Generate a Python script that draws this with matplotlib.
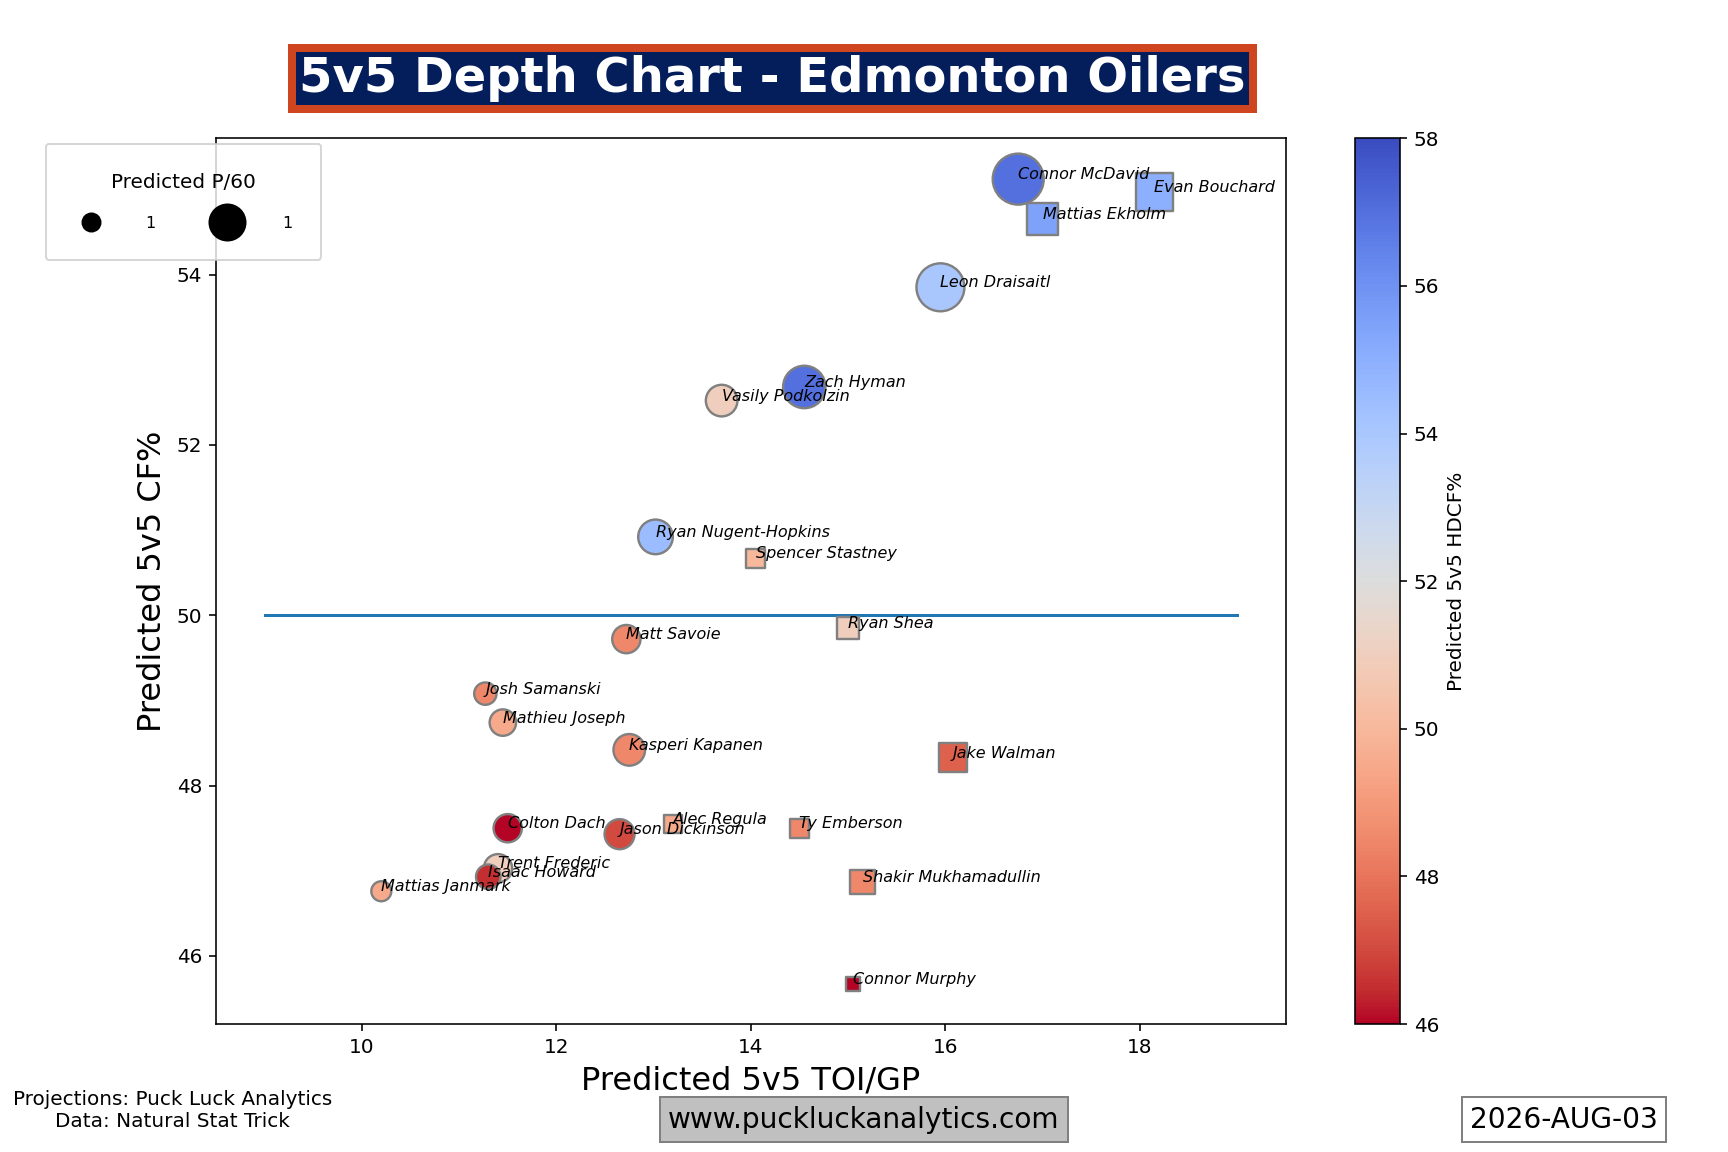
import matplotlib
matplotlib.use('Agg')
import matplotlib.pyplot as plt
from matplotlib.lines import Line2D

names = ['Connor McDavid', 'Evan Bouchard', 'Mattias Ekholm', 'Leon Draisaitl', 'Zach Hyman',
         'Vasily Podkolzin', 'Ryan Nugent-Hopkins', 'Spencer Stastney', 'Ryan Shea', 'Matt Savoie',
         'Josh Samanski', 'Mathieu Joseph', 'Kasperi Kapanen', 'Jake Walman', 'Colton Dach',
         'Jason Dickinson', 'Alec Regula', 'Ty Emberson', 'Trent Frederic', 'Isaac Howard',
         'Mattias Janmark', 'Shakir Mukhamadullin', 'Connor Murphy']
toi = [16.75, 18.15, 17.0, 15.95, 14.55, 13.7, 13.02, 14.05, 15.0, 12.72, 11.27, 11.45, 12.75,
       16.08, 11.5, 12.65, 13.2, 14.5, 11.4, 11.3, 10.2, 15.15, 15.05]
cf = [55.12, 54.97, 54.65, 53.85, 52.68, 52.52, 50.92, 50.67, 49.85, 49.72, 49.08, 48.74, 48.42,
      48.33, 47.5, 47.43, 47.55, 47.5, 47.03, 46.93, 46.76, 46.87, 45.67]
hdcf = [57.0, 55.0, 55.5, 54.0, 57.0, 51.0, 54.5, 50.0, 51.0, 48.5, 48.5, 49.5, 48.5,
        47.5, 46.0, 47.0, 49.5, 48.5, 51.0, 46.5, 49.5, 48.5, 46.0]
p60 = [2.6, 1.4, 1.0, 2.3, 1.8, 1.0, 1.2, 0.35, 0.5, 0.8, 0.5, 0.7, 1.0,
       0.8, 0.8, 0.9, 0.3, 0.35, 0.8, 0.6, 0.4, 0.6, 0.2]
is_d = [False, True, True, False, False, False, False, True, True, False, False, False, False,
        True, False, False, True, True, False, False, False, True, True]

fig = plt.figure(figsize=(12, 8), dpi=144)
ax = fig.add_axes([0.125, 0.111, 0.619, 0.769])
cax = fig.add_axes([0.784, 0.111, 0.026, 0.769])

norm = plt.Normalize(46, 58)
cmap = plt.get_cmap('coolwarm_r')
for shape, flag in [('o', False), ('s', True)]:
    idx = [i for i in range(len(names)) if is_d[i] == flag]
    sc = ax.scatter([toi[i] for i in idx], [cf[i] for i in idx],
                    s=[p60[i] * 250 for i in idx], c=[hdcf[i] for i in idx],
                    cmap=cmap, norm=norm, marker=shape, edgecolors='grey', linewidths=1.2, zorder=3)
for i, n in enumerate(names):
    ax.text(toi[i], cf[i], n, fontsize=8, style='italic', zorder=4)

ax.plot([9, 19], [50, 50], color='tab:blue', lw=1.5, zorder=2)
ax.set_xlim(8.5, 19.5)
ax.set_ylim(45.2, 55.6)
ax.set_xlabel('Predicted 5v5 TOI/GP', fontsize=16)
ax.set_ylabel('Predicted 5v5 CF%', fontsize=16)

cb = fig.colorbar(sc, cax=cax)
cb.set_label('Predicted 5v5 HDCF%')

handles = [Line2D([], [], marker='o', ls='', color='black', markersize=9),
           Line2D([], [], marker='o', ls='', color='black', markersize=18)]
fig.legend(handles, ['1', '1'], title='Predicted P/60', loc='upper left',
           bbox_to_anchor=(0.022, 0.882), ncol=2, fontsize=8, borderpad=1.8,
           handletextpad=2.4, columnspacing=3.5, labelspacing=1.5)

fig.text(0.447, 0.932, '5v5 Depth Chart - Edmonton Oilers', ha='center', va='center',
         fontsize=24, fontweight='bold', color='white',
         bbox=dict(facecolor='#041e5c', edgecolor='#cf4520', linewidth=4, boxstyle='square,pad=0.15'))
fig.text(0.10, 0.036, 'Projections: Puck Luck Analytics\nData: Natural Stat Trick',
         ha='center', va='center', fontsize=10)
fig.text(0.5, 0.028, 'www.puckluckanalytics.com', ha='center', va='center', fontsize=14,
         bbox=dict(facecolor='#c0c0c0', edgecolor='grey', boxstyle='square,pad=0.3'))
fig.text(0.905, 0.028, '2026-AUG-03', ha='center', va='center', fontsize=14,
         bbox=dict(facecolor='white', edgecolor='grey', boxstyle='square,pad=0.3'))

fig.savefig('out.png')
